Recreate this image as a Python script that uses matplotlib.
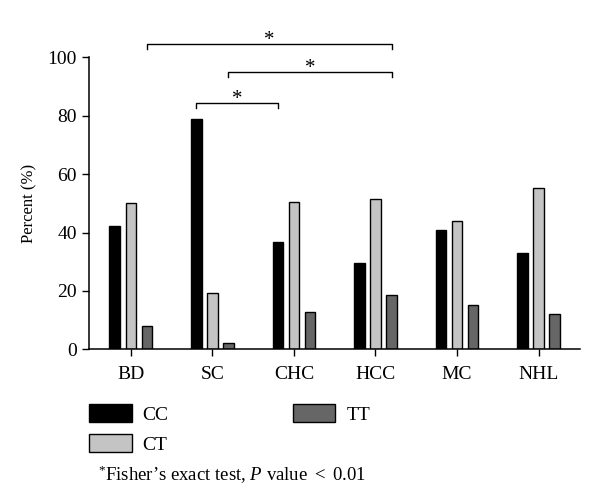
import numpy as np
import matplotlib
matplotlib.use('Agg')
import matplotlib.pyplot as plt
from matplotlib.patches import Patch

plt.rcParams['font.family'] = 'Liberation Serif'
plt.rcParams['mathtext.fontset'] = 'custom'
plt.rcParams['mathtext.rm'] = 'Liberation Serif'
plt.rcParams['mathtext.it'] = 'Liberation Serif:italic'

# data
groups = ['BD', 'SC', 'CHC', 'HCC', 'MC', 'NHL']
genotypes = ['CC', 'CT', 'TT']
cc = [42.2, 78.8, 36.9, 29.7, 41.0, 33.1]
ct = [50.0, 19.2, 50.6, 51.6, 44.0, 55.1]
tt = [8.0, 2.3, 12.8, 18.7, 15.2, 12.0]
colors = ['#000000', '#c4c4c4', '#666666']

# significant comparisons (group, genotype) -> (group, genotype)
sig_pairs = [('BD', 'TT', 'HCC', 'TT'),
             ('SC', 'TT', 'HCC', 'TT'),
             ('SC', 'CC', 'CHC', 'CC')]
sig_levels = [104.6, 95.1, 84.5]

fig = plt.figure(figsize=(6, 4.92), dpi=100)
ax = fig.add_axes([0.1488, 0.290, 0.818, 0.5935])

x = np.arange(len(groups))
w = 0.13
off = 0.197
for k, (vals, c) in enumerate(zip([cc, ct, tt], colors)):
    ax.bar(x + (k - 1) * off, vals, width=w, color=c,
           edgecolor='black', linewidth=1.0)

ax.set_xlim(-0.51, 5.51)
ax.set_ylim(0, 100)
ax.set_yticks([0, 20, 40, 60, 80, 100])
ax.set_xticks(x)
ax.set_xticklabels(groups)
ax.tick_params(axis='both', labelsize=14, width=1, length=5, direction='out')
ax.tick_params(axis='x', pad=7)
ax.tick_params(axis='y', pad=4)
for s in ['top', 'right']:
    ax.spines[s].set_visible(False)
for s in ['left', 'bottom']:
    ax.spines[s].set_linewidth(1.1)
ax.set_ylabel('Percent (%)', fontsize=12, labelpad=7)

# significance brackets
for (g1, s1, g2, s2), h in zip(sig_pairs, sig_levels):
    x1 = groups.index(g1) + (genotypes.index(s1) - 1) * off
    x2 = groups.index(g2) + (genotypes.index(s2) - 1) * off
    ax.plot([x1, x1, x2, x2], [h - 1.8, h, h, h - 1.8], color='black',
            lw=1.0, clip_on=False)
    ax.text((x1 + x2) / 2, h - 0.4, '*', ha='center', va='baseline',
            fontsize=15, clip_on=False)

handles = [Patch(facecolor=c, edgecolor='black', linewidth=1.0) for c in colors]
fig.legend(handles, genotypes, loc='upper left', bbox_to_anchor=(0.148, 0.178),
           ncol=2, frameon=False, fontsize=14, handlelength=2.2,
           handleheight=1.0, handletextpad=0.55, columnspacing=6.4,
           labelspacing=0.55, borderpad=0, borderaxespad=0)

fig.text(0.163, 0.022, r"$^{*}$Fisher’s exact test, $P$ value $<$ 0.01",
         fontsize=13.5, ha='left', va='baseline')

fig.savefig('out.png', dpi=100)
